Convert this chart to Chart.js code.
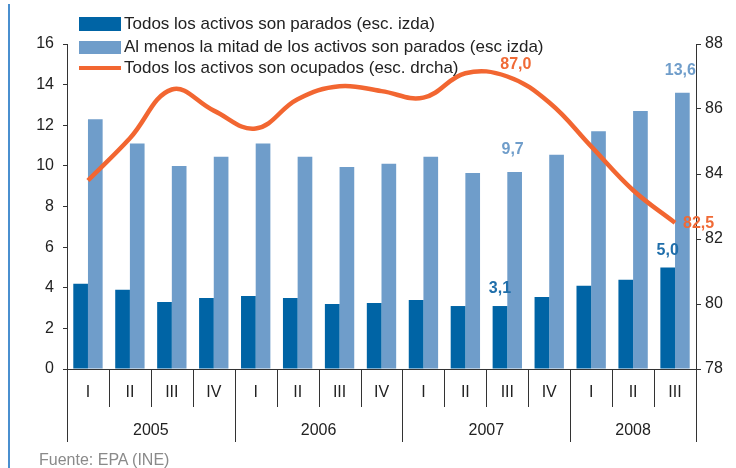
<!DOCTYPE html>
<html>
<head>
<meta charset="utf-8">
<script src="https://cdn.jsdelivr.net/npm/chart.js@4.4.1/dist/chart.umd.min.js"></script>
<style>
  body { margin: 0; background: #fff; }
  #wrap { position: relative; width: 736px; height: 468px; font-family: "Liberation Sans", Arial, sans-serif; }
  .leg { position: absolute; left: 79px; height: 20px; display: flex; align-items: center; font-size: 17px; color: #222; white-space: nowrap; }
  .leg span.sw { display: inline-block; width: 42px; margin-right: 3px; }
  #fuente { position: absolute; left: 39px; top: 451px; font-size: 16px; color: #8a8a8a; }
</style>
</head>
<body>
<div id="wrap">
  <canvas id="myChart" width="736" height="468"></canvas>
  <div class="leg" style="top:14px"><span class="sw" style="height:14px;background:#0064a5"></span>Todos los activos son parados (esc. izda)</div>
  <div class="leg" style="top:37px"><span class="sw" style="height:13px;background:#6f9dca"></span>Al menos la mitad de los activos son parados (esc izda)</div>
  <div class="leg" style="top:58px"><span class="sw" style="height:4px;background:#f26631"></span>Todos los activos son ocupados (esc. drcha)</div>
  <div id="fuente">Fuente: EPA (INE)</div>
</div>
<script>
// quarters and years on the x axis
const quarters = ['I', 'II', 'III', 'IV', 'I', 'II', 'III', 'IV', 'I', 'II', 'III', 'IV', 'I', 'II', 'III'];
const years = ['2005', '2006', '2007', '2008'];
const quartersPerYear = [4, 4, 4, 3];

// left scale (%)
const todosParados = [4.2, 3.9, 3.3, 3.5, 3.6, 3.5, 3.2, 3.25, 3.4, 3.1, 3.1, 3.55, 4.1, 4.4, 5.0];
const mitadParados = [12.3, 11.1, 10.0, 10.45, 11.1, 10.45, 9.95, 10.1, 10.45, 9.65, 9.7, 10.55, 11.7, 12.7, 13.6];
// right scale (%)
const todosOcupados = [83.8, 85.1, 86.6, 85.95, 85.4, 86.3, 86.7, 86.55, 86.35, 87.1, 87.0, 86.2, 84.85, 83.5, 82.5];

// value labels shown on the chart (index -> text)
const labelsParados = {10: '3,1', 14: '5,0'};
const labelsMitad = {10: '9,7', 14: '13,6'};
const labelsOcupados = {10: '87,0', 14: '82,5'};

const FONT = '"Liberation Sans", Arial, sans-serif';
const AXIS = '#333';

// draws quarter / year separators, year names, value labels and the blue frame line
const extrasPlugin = {
    id: 'extras',
    beforeDraw(chart) {
        const ctx = chart.ctx;
        ctx.save();
        ctx.strokeStyle = '#4a8fcf';
        ctx.lineWidth = 2;
        ctx.beginPath();
        ctx.moveTo(9, 4);
        ctx.lineTo(9, 468);
        ctx.stroke();
        ctx.restore();
    },
    afterDraw(chart) {
        const ctx = chart.ctx;
        const x = chart.scales.x;
        const base = chart.chartArea.bottom;
        const half = (x.getPixelForValue(1) - x.getPixelForValue(0)) / 2;

        ctx.save();
        ctx.strokeStyle = AXIS;
        ctx.lineWidth = 1;
        // year boundary indexes
        let yearStarts = [0];
        quartersPerYear.forEach(n => yearStarts.push(yearStarts[yearStarts.length - 1] + n));
        for (let i = 0; i <= quarters.length; i++) {
            let px = Math.round(x.getPixelForValue(i) - half) + 0.5;
            let len = yearStarts.includes(i) ? 73 : 38;
            ctx.beginPath();
            ctx.moveTo(px, base);
            ctx.lineTo(px, base + len);
            ctx.stroke();
        }

        // year names
        ctx.fillStyle = '#222';
        ctx.font = '16px ' + FONT;
        ctx.textAlign = 'center';
        ctx.textBaseline = 'middle';
        years.forEach((yr, k) => {
            let a = x.getPixelForValue(yearStarts[k]);
            let b = x.getPixelForValue(yearStarts[k + 1] - 1);
            ctx.fillText(yr, (a + b) / 2, base + 62);
        });

        // value labels
        ctx.font = 'bold 16px ' + FONT;
        const m0 = chart.getDatasetMeta(0);
        const m1 = chart.getDatasetMeta(1);
        const m2 = chart.getDatasetMeta(2);
        ctx.fillStyle = '#1f6eaa';
        for (let i in labelsParados) {
            let el = m1.data[i];
            ctx.fillText(labelsParados[i], el.x, el.y - 17);
        }
        ctx.fillStyle = '#6f9dca';
        for (let i in labelsMitad) {
            let el = m2.data[i];
            ctx.fillText(labelsMitad[i], el.x - 2, el.y - 22);
        }
        ctx.fillStyle = '#f06a36';
        ctx.textAlign = 'left';
        for (let i in labelsOcupados) {
            let el = m0.data[i];
            if (i == 14) {
                ctx.fillText(labelsOcupados[i], el.x + 8, el.y + 1);
            } else {
                ctx.fillText(labelsOcupados[i], el.x - 7, el.y - 12);
            }
        }
        ctx.restore();
    }
};

new Chart(document.getElementById('myChart').getContext('2d'), {
    type: 'bar',
    data: {
        labels: quarters,
        datasets: [
            {
                type: 'line',
                label: 'Todos los activos son ocupados (esc. drcha)',
                data: todosOcupados,
                yAxisID: 'y2',
                borderColor: '#f26631',
                borderWidth: 4.5,
                pointRadius: 0,
                tension: 0.4,
                fill: false,
                order: 0
            },
            {
                label: 'Todos los activos son parados (esc. izda)',
                data: todosParados,
                yAxisID: 'y',
                backgroundColor: '#0064a5',
                categoryPercentage: 0.7,
                barPercentage: 1.0,
                order: 1
            },
            {
                label: 'Al menos la mitad de los activos son parados (esc izda)',
                data: mitadParados,
                yAxisID: 'y',
                backgroundColor: '#6f9dca',
                categoryPercentage: 0.7,
                barPercentage: 1.0,
                order: 1
            }
        ]
    },
    options: {
        responsive: false,
        animation: false,
        devicePixelRatio: 1,
        layout: {padding: {top: 44, left: 0, right: 0, bottom: 0}},
        plugins: {
            legend: {display: false},
            tooltip: {enabled: false}
        },
        scales: {
            x: {
                offset: true,
                grid: {display: true, drawOnChartArea: false, drawTicks: false},
                border: {display: true, color: AXIS, width: 1},
                ticks: {
                    autoSkip: false, maxRotation: 0, padding: 14,
                    color: '#222', font: {family: FONT, size: 16}
                },
                afterFit(scale) { scale.height = 99; }
            },
            y: {
                position: 'left',
                min: 0, max: 16,
                ticks: {stepSize: 2, padding: 9, color: '#222', font: {family: FONT, size: 16}},
                grid: {drawOnChartArea: false, tickLength: 4, color: AXIS},
                border: {display: true, color: AXIS, width: 1},
                afterFit(scale) { scale.width = 67; }
            },
            y2: {
                position: 'right',
                min: 78, max: 88,
                ticks: {stepSize: 2, padding: 4, color: '#222', font: {family: FONT, size: 16}},
                grid: {drawOnChartArea: false, tickLength: 5, color: AXIS},
                border: {display: true, color: AXIS, width: 1},
                afterFit(scale) { scale.width = 40; }
            }
        }
    },
    plugins: [extrasPlugin]
});
</script>
</body>
</html>
